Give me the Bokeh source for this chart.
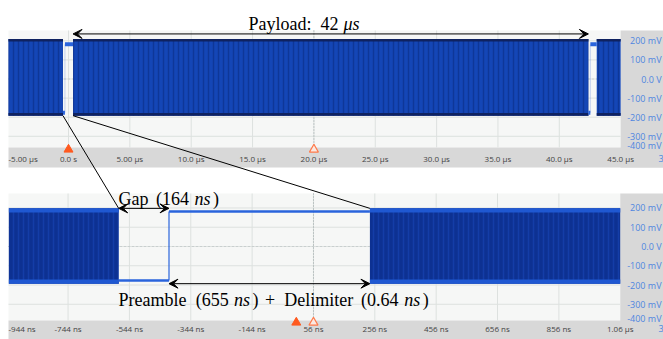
from bokeh.plotting import figure
from bokeh.models import Range1d, Arrow, VeeHead
from bokeh.embed import file_html
from bokeh.resources import INLINE
from bokeh.core.properties import value

# ================= DATA =================
# voltage axis, shared by both captures (mV)
volt_ticks = [200, 100, 0, -100, -200, -300, -400]
volt_labels = ["200 mV", "100 mV", "0.0 V", "-100 mV", "-200 mV", "-300 mV", "-400 mV"]

# top capture: whole frame, time in µs
top_time_ticks = [-5, 0, 5, 10, 15, 20, 25, 30, 35, 40, 45]
top_time_labels = ["-5.00 µs", "0.0 s", "5.00 µs", "10.0 µs", "15.0 µs", "20.0 µs",
                   "25.0 µs", "30.0 µs", "35.0 µs", "40.0 µs", "45.0 µs"]
top_burst_start = [-4.89, 0.37, 43.05]
top_burst_end = [-0.45, 42.37, 45.0]
top_gap_start = [-0.45, 42.37]
top_pre_start = [-0.29, 42.53]
top_pre_end = [0.37, 43.05]
top_burst_high, top_burst_low = 210, -192
top_trigger, top_center = 0, 20
payload_start_us, payload_end_us = 0.37, 42.37

# bottom capture: zoom on the gap, time in ns
bot_time_ticks = [-944, -744, -544, -344, -144, 56, 256, 456, 656, 856, 1056]
bot_time_labels = ["-944 ns", "-744 ns", "-544 ns", "-344 ns", "-144 ns", "56 ns",
                   "256 ns", "456 ns", "656 ns", "856 ns", "1.06 µs"]
bot_burst_start = [-937, 240]
bot_burst_end = [-579, 1056]
bot_gap_start = [-579]
bot_pre_start = [-415]
bot_pre_end = [240]
bot_burst_high, bot_burst_low = 198, -193
bot_trigger, bot_center = 0, 56

level_high, level_low = 182, -177   # preamble / gap levels (mV)

# ================= LAYOUT (pixels) =================
W, H = 663, 339
def X(r): return float(r)
def Y(r): return float(r)

FRAME_L = 8.0
T = dict(x0=68.0, xs=12.27, y0=78.5, ys=0.191, top=30.0, bot=147.0, band=167.0, lab=158.0)
B = dict(x0=295.8, xs=0.30675, y0=246.0, ys=0.1926, top=193.0, bot=320.0, band=345.0, lab=328.0)

PLOT_BG = "#f6f7f6"
GRID = "#dde1df"
BAND = "#d8d8d8"
XLAB = "#444444"
YLAB = "#4f86e0"
TRIG = "#ff5a1f"

p = figure(width=W, height=H, output_backend="svg", toolbar_location=None,
           x_range=Range1d(0, W), y_range=Range1d(H, 0),
           x_axis_location=None, y_axis_location=None,
           min_border=0, min_border_left=0, min_border_right=0,
           min_border_top=0, min_border_bottom=0)
p.grid.visible = False
p.outline_line_color = None
p.background_fill_color = "white"
p.border_fill_color = "white"

def xrange_for(g):
    return Range1d((0 - g["x0"]) / g["xs"], (W - g["x0"]) / g["xs"])

def yrange_for(g):
    return Range1d((g["y0"] - H) / g["ys"], g["y0"] / g["ys"])

p.extra_x_ranges = {"tx": xrange_for(T), "bx": xrange_for(B)}
p.extra_y_ranges = {"ty": yrange_for(T), "by": yrange_for(B)}

def px(g, t, v):
    return X(g["x0"] + g["xs"] * t), Y(g["y0"] - g["ys"] * v)

def draw_panel(g, rx, ry, ticks, labels, b_start, b_end, b_hi, b_lo,
               gap_s, pre_s, pre_e, trig, center, body, streak, edge, edge_w,
               lvl_w, rise_w, rise_alpha):
    kw = dict(x_range_name=rx, y_range_name=ry)
    kx = dict(x_range_name=rx)
    ky = dict(y_range_name=ry)
    right_ref = g["x0"] + g["xs"] * ticks[-1]
    v_bot = (g["y0"] - g["bot"]) / g["ys"]
    # backgrounds
    p.quad(left=X(FRAME_L), right=X(right_ref), top=Y(g["top"]), bottom=Y(g["bot"]),
           fill_color=PLOT_BG, line_color=None)
    p.quad(left=X(FRAME_L), right=W, top=Y(g["bot"]), bottom=Y(g["band"]),
           fill_color=BAND, line_color=None)
    p.quad(left=X(right_ref), right=W, top=Y(g["top"]), bottom=Y(g["band"]),
           fill_color=BAND, line_color=None)
    # grid
    gx = [t for t in ticks if FRAME_L + 1 < g["x0"] + g["xs"] * t < right_ref - 1]
    p.segment(x0=gx, x1=gx, y0=Y(g["top"]), y1=Y(g["bot"]), line_color=GRID, line_width=1, **kx)
    gy = [v for v in volt_ticks if v > v_bot]
    p.segment(x0=X(FRAME_L), x1=X(right_ref), y0=gy, y1=gy, line_color=GRID, line_width=1, **ky)
    p.segment(x0=[center], x1=[center], y0=Y(g["top"]), y1=Y(g["bot"]),
              line_color="#9aa3a6", line_dash="1 2", line_width=1, **kx)
    p.segment(x0=X(FRAME_L), x1=X(right_ref), y0=[0], y1=[0],
              line_color="#b5bcbe", line_dash="1 3", line_width=1, **ky)
    # signal bursts
    p.quad(left=b_start, right=b_end, top=b_hi, bottom=b_lo, fill_color=body,
           line_color=None, hatch_pattern="|", hatch_color=streak, hatch_scale=5,
           hatch_weight=1.5, hatch_alpha=0.55, **kw)
    p.quad(left=b_start, right=b_end, top=b_hi, bottom=[b_hi - edge_w] * len(b_start),
           fill_color=edge, line_color=None, **kw)
    p.quad(left=b_start, right=b_end, top=[b_lo + edge_w] * len(b_start), bottom=b_lo,
           fill_color=edge, line_color=None, **kw)
    # gap + preamble levels
    p.segment(x0=pre_s, x1=pre_s, y0=level_low, y1=level_high, line_color="#2a64dc",
              line_width=rise_w, line_alpha=rise_alpha, **kw)
    p.segment(x0=gap_s, x1=pre_s, y0=level_low, y1=level_low, line_color="#2a64dc",
              line_width=lvl_w, **kw)
    p.segment(x0=pre_s, x1=pre_e, y0=level_high, y1=level_high, line_color="#2a64dc",
              line_width=lvl_w, **kw)
    # trigger markers
    p.scatter(x=[trig], y=[Y(g["bot"] + 2)], marker="triangle", size=9,
              fill_color=TRIG, line_color=TRIG, **kx)
    p.scatter(x=[center], y=[Y(g["bot"] + 2)], marker="triangle", size=9,
              fill_color="#fbe9e2", line_color="#ff7a4a", line_width=1.2, **kx)
    # time tick labels
    left_t = (FRAME_L - g["x0"]) / g["xs"]
    lx_l, lt_l, lx_c, lt_c = [], [], [], []
    for t, s in zip(ticks, labels):
        if g["x0"] + g["xs"] * t < FRAME_L + 2:
            lx_l.append(left_t); lt_l.append(s)
        else:
            lx_c.append(t); lt_c.append(s)
    common = dict(text_font=value("Open Sans"), text_font_size="8px", text_color=XLAB,
                  text_baseline="middle")
    p.text(x=lx_l, y=Y(g["lab"]), text=lt_l, text_align="left", **common, **kx)
    p.text(x=lx_c, y=Y(g["lab"]), text=lt_c, text_align="center", **common, **kx)
    # cut-off scope readout at the right edge
    p.text(x=[W - 5], y=[Y(g["lab"])], text=["3"], text_align="left", text_baseline="middle",
           text_font=value("Open Sans"), text_font_size="9px", text_color=YLAB)
    # voltage tick labels
    vy = [max(v, v_bot + 10) for v in volt_ticks]
    p.text(x=W - 2, y=vy, text=volt_labels, text_align="right", text_baseline="middle",
           text_font=value("Open Sans"), text_font_size="9px", text_color=YLAB, **ky)

draw_panel(T, "tx", "ty", top_time_ticks, top_time_labels, top_burst_start, top_burst_end,
           top_burst_high, top_burst_low, top_gap_start, top_pre_start, top_pre_end,
           top_trigger, top_center, body="#1446b6", streak="#0a2a80", edge="#0f2260",
           edge_w=14, lvl_w=4, rise_w=1, rise_alpha=0.25)
draw_panel(B, "bx", "by", bot_time_ticks, bot_time_labels, bot_burst_start, bot_burst_end,
           bot_burst_high, bot_burst_low, bot_gap_start, bot_pre_start, bot_pre_end,
           bot_trigger, bot_center, body="#0d3192", streak="#1947b8", edge="#1f58d2",
           edge_w=22, lvl_w=2.5, rise_w=1.5, rise_alpha=0.8)

# ---- connectors between the two captures ----
c1a = px(T, top_gap_start[0], top_burst_low)
c1b = px(B, bot_gap_start[0], bot_burst_high)
c2a = px(T, payload_start_us, top_burst_low)
c2b = px(B, bot_pre_end[0], bot_burst_high)
p.segment(x0=[c1a[0], c2a[0]], y0=[c1a[1], c2a[1]], x1=[c1b[0], c2b[0]], y1=[c1b[1], c2b[1]],
          line_color="black", line_width=1)

# ---- dimension arrows ----
def harrow(rx, ry, x_s, x_e, yv):
    p.add_layout(Arrow(x_start=x_s, y_start=yv, x_end=x_e, y_end=yv,
                       start=VeeHead(size=9, fill_color="black", line_color="black", line_width=1),
                       end=VeeHead(size=9, fill_color="black", line_color="black", line_width=1),
                       line_color="black", line_width=1, x_range_name=rx, y_range_name=ry))

harrow("tx", "ty", payload_start_us, payload_end_us, 236)
harrow("bx", "by", bot_gap_start[0], bot_pre_start[0], bot_burst_high)
harrow("bx", "by", bot_pre_start[0], bot_pre_end[0], bot_burst_low)

# ---- annotation text (word by word, LaTeX-like) ----
ann = [  # (x, baseline, text, italic)
    (248.0, 23, "Payload:", False), (319.9, 23, "42", False), (342.9, 23, "μs", True),
    (118.0, 198, "Gap", False), (155.6, 198, "(164", False), (194.1, 198, "ns", True),
    (212.5, 198, ")", False),
    (118.0, 299, "Preamble", False), (195.2, 299, "(655", False), (233.6, 299, "ns", True),
    (252.1, 299, ")", False), (264.6, 299, "+", False), (283.8, 299, "Delimiter", False),
    (360.5, 299, "(0.64", False), (403.8, 299, "ns", True), (422.3, 299, ")", False),
]
for ital in (False, True):
    sel = [a for a in ann if a[3] == ital]
    p.text(x=[X(a[0]) for a in sel], y=[Y(a[1]) for a in sel], text=[a[2] for a in sel],
           text_font=value("Liberation Serif"), text_font_size="18px",
           text_font_style="italic" if ital else "normal",
           text_color="black", text_align="left", text_baseline="alphabetic")

open("out.html", "w").write(file_html(p, INLINE))
